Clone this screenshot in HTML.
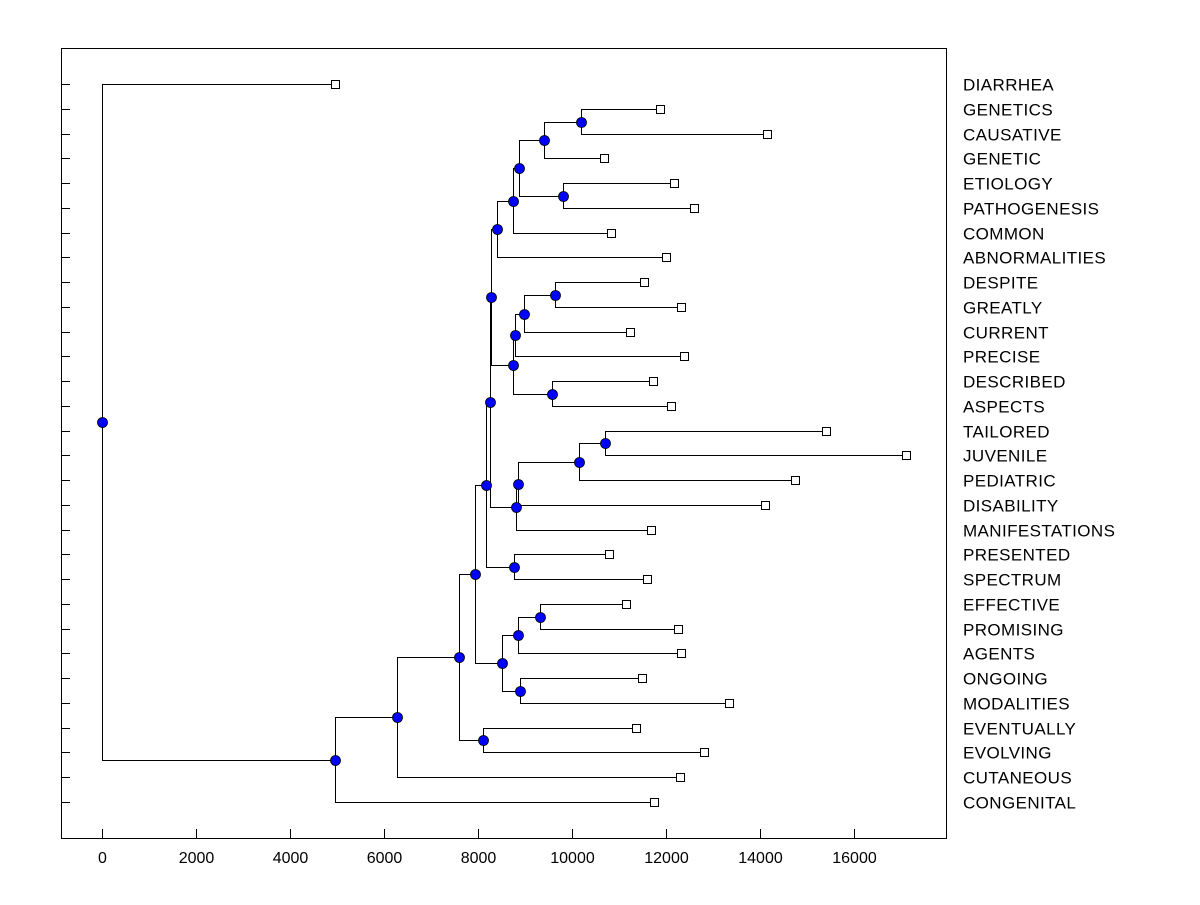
<!DOCTYPE html>
<html><head><meta charset="utf-8"><style>
html,body{margin:0;padding:0;background:#fff;}
svg text{font-family:"Liberation Sans",Arial,sans-serif;font-size:16px;fill:#000;}
svg text.leaf{font-size:17px;letter-spacing:0.4px;}
</style></head><body>
<svg id="chart" width="1200" height="900" xmlns="http://www.w3.org/2000/svg">
<rect x="0" y="0" width="1200" height="900" fill="#fff"/>
<rect x="61.5" y="48.5" width="885" height="790" fill="none" stroke="#000" stroke-width="1"/>
<g id="ticks"></g><g id="links"></g><g id="marks"></g><g id="labels"></g>
</svg>
<script>
const labels = ["DIARRHEA","GENETICS","CAUSATIVE","GENETIC","ETIOLOGY","PATHOGENESIS","COMMON","ABNORMALITIES","DESPITE","GREATLY","CURRENT","PRECISE","DESCRIBED","ASPECTS","TAILORED","JUVENILE","PEDIATRIC","DISABILITY","MANIFESTATIONS","PRESENTED","SPECTRUM","EFFECTIVE","PROMISING","AGENTS","ONGOING","MODALITIES","EVENTUALLY","EVOLVING","CUTANEOUS","CONGENITAL"];
const leafValues = [4957,11872,14149,10681,12170,12596,10830,12000,11532,12319,11234,12383,11723,12106,15404,17106,14745,14106,11681,10787,11596,11149,12255,12319,11489,13340,11362,12809,12298,11745];
const mergeLeft  = [1,30,4,31,33,34,8,36,37,12,38,35,14,42,43,44,41,19,46,21,49,24,50,48,26,53,55,56,0];
const mergeRight = [2,3,5,32,6,7,9,10,11,13,39,40,15,16,17,18,45,20,47,22,23,25,51,52,27,54,28,29,57];
const mergeHeights = [10191,9404,9809,8872,8745,8404,9638,8979,8787,9574,8745,8277,10702,10149,8851,8809,8255,8766,8170,9319,8851,8894,8511,7936,8106,7596,6277,4957,0];
const xTicks = [0,2000,4000,6000,8000,10000,12000,14000,16000];

const NS="http://www.w3.org/2000/svg";
const xScale = v => Math.round(102 + v*0.047)+0.5;
const yScale = i => Math.round(84 + i*(802-84)/29)+0.5;
function mk(tag, attrs, parent){const e=document.createElementNS(NS,tag);for(const k in attrs)e.setAttribute(k,attrs[k]);document.getElementById(parent).appendChild(e);return e;}

xTicks.forEach(t=>{
  const x=xScale(t);
  const l=mk('line',{x1:x,y1:838,x2:x,y2:829,stroke:'#000'},'ticks');
  
  
  const tx=mk('text',{x:x,y:863,'text-anchor':'middle'},'ticks');
  tx.textContent=t;
  
  
});
labels.forEach((lab,i)=>{
  const y=yScale(i);
  const l=mk('line',{x1:61,y1:y,x2:70,y2:y,stroke:'#000'},'ticks');
  
  
  const tx=mk('text',{x:963,y:y+6,'class':'leaf'},'labels');
  tx.textContent=lab;
  
  
});

const nx=[], ny=[];
leafValues.forEach((v,i)=>{nx[i]=xScale(v);ny[i]=yScale(i);});
mergeHeights.forEach((h,k)=>{
  const id=labels.length+k, a=mergeLeft[k], b=mergeRight[k];
  nx[id]=xScale(h); ny[id]=Math.round((ny[a]+ny[b])/2-0.5)+0.5;
  const p=mk('path',{d:`M${nx[a]},${ny[a]}H${nx[id]}V${ny[b]}H${nx[b]}`,fill:'none',stroke:'#000','stroke-width':1},'links');
  
  
});
leafValues.forEach((v,i)=>{
  const r=mk('rect',{x:nx[i]-4,y:ny[i]-4,width:8,height:8,fill:'#fff',stroke:'#000'},'marks');
  
  
});
mergeHeights.forEach((h,k)=>{
  const id=labels.length+k;
  const c=mk('circle',{cx:nx[id],cy:ny[id],r:5,fill:'#0000ff',stroke:'#000','stroke-width':0.8},'marks');
  
  
});
</script>
</body></html>
